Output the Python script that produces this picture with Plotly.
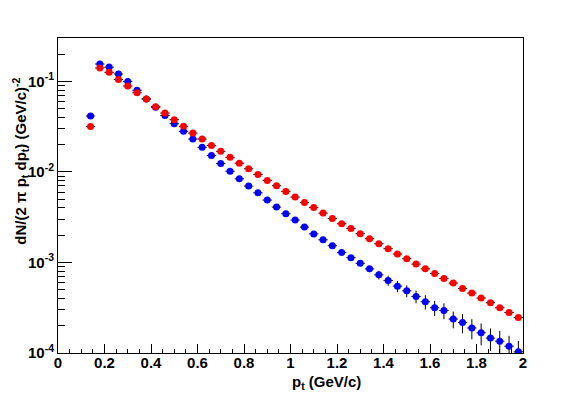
import plotly.graph_objects as go

# bin centres (GeV/c)
pt = [0.14, 0.18, 0.22, 0.26, 0.30, 0.34, 0.38, 0.42, 0.46, 0.50,
      0.54, 0.58, 0.62, 0.66, 0.70, 0.74, 0.78, 0.82, 0.86, 0.90,
      0.94, 0.98, 1.02, 1.06, 1.10, 1.14, 1.18, 1.22, 1.26, 1.30,
      1.34, 1.38, 1.42, 1.46, 1.50, 1.54, 1.58, 1.62, 1.66, 1.70,
      1.74, 1.78, 1.82, 1.86, 1.90, 1.94, 1.98]

red_y = [0.0318, 0.141, 0.126, 0.105, 0.089, 0.075, 0.064, 0.0525, 0.0448, 0.0378,
         0.0319, 0.0269, 0.0231, 0.0196, 0.0169, 0.0145, 0.0125, 0.01084, 0.00938, 0.00805,
         0.00704, 0.0061, 0.00528, 0.0046, 0.00405, 0.00351, 0.00306, 0.00268, 0.00238, 0.00208,
         0.00183, 0.00161, 0.00142, 0.00124, 0.0011, 0.00096, 0.00085, 0.000755, 0.000666, 0.000592,
         0.000516, 0.000459, 0.000404, 0.000359, 0.000316, 0.00028, 0.000247]

blue_y = [0.0415, 0.156, 0.144, 0.121, 0.100, 0.080, 0.064, 0.052, 0.042, 0.0341,
          0.0281, 0.0231, 0.0187, 0.0152, 0.0124, 0.0102, 0.0084, 0.00698, 0.00589, 0.00489,
          0.00409, 0.00345, 0.00294, 0.00246, 0.00207, 0.00178, 0.00153, 0.00129, 0.00113, 0.00098,
          0.00085, 0.00073, 0.000633, 0.000548, 0.000486, 0.000421, 0.000368, 0.000316, 0.000295, 0.000237,
          0.000217, 0.000189, 0.000167, 0.000146, 0.000135, 0.000119, 0.000103]

# relative stat. errors
red_rel = [0.02] * 47
blue_rel = [0.03, 0.03, 0.03, 0.03, 0.03, 0.03, 0.03, 0.03, 0.03, 0.03,
            0.03, 0.03, 0.03, 0.03, 0.03, 0.03, 0.03, 0.03, 0.03, 0.03,
            0.03, 0.03, 0.04, 0.04, 0.04, 0.05, 0.05, 0.05, 0.06, 0.07,
            0.08, 0.11, 0.13, 0.14, 0.15, 0.16, 0.18, 0.19, 0.20, 0.21,
            0.24, 0.25, 0.27, 0.28, 0.30, 0.30, 0.32]

ytick_vals = [1e-4, 1e-3, 1e-2, 1e-1]
ytick_text = ["10<sup>-4</sup>", "10<sup>-3</sup>", "10<sup>-2</sup>", "10<sup>-1</sup>"]
xtick_vals = [0, 0.2, 0.4, 0.6, 0.8, 1, 1.2, 1.4, 1.6, 1.8, 2]
xtick_text = ["0", "0.2", "0.4", "0.6", "0.8", "1", "1.2", "1.4", "1.6", "1.8", "2"]

FONT = "Liberation Sans, Arial, Helvetica, sans-serif"

fig = go.Figure()

for y, rel, col in [(blue_y, blue_rel, "#0000ff"), (red_y, red_rel, "#ff0000")]:
    fig.add_trace(go.Scatter(
        x=pt, y=y, mode="markers",
        marker=dict(color=col, size=7, symbol="circle", line=dict(width=0)),
        error_x=dict(type="constant", value=0.02, color="black", thickness=1, width=0),
        error_y=dict(type="data", array=[v * r for v, r in zip(y, rel)],
                     color="black", thickness=1, width=0),
        showlegend=False,
    ))

# the page body adds an 8px offset, margins compensate for it
fig.update_layout(
    width=581, height=394,
    margin=dict(l=50, r=66, t=30, b=49),
    paper_bgcolor="white", plot_bgcolor="white",
    font=dict(family=FONT, size=15, color="black", weight="bold"),
    annotations=[
        dict(text="p<sub>t</sub> (GeV/c)", xref="paper", yref="paper",
             x=0.577, y=-0.094, xanchor="center", yanchor="middle", showarrow=False,
             font=dict(family=FONT, size=15, weight="bold")),
        dict(text="dN/(2 π p<sub>t</sub> dp<sub>t</sub>) (GeV/c)<sup>-2</sup>",
             xref="paper", yref="paper", x=-0.08, y=0.61, textangle=-90,
             xanchor="center", yanchor="middle", showarrow=False,
             font=dict(family=FONT, size=15, weight="bold")),
    ],
)

fig.update_xaxes(
    range=[0, 2], showgrid=False, zeroline=False, automargin=False,
    showline=True, linecolor="black", linewidth=1, mirror=True,
    ticks="inside", ticklen=9, tickcolor="black", ticklabelstandoff=-4,
    tickvals=xtick_vals, ticktext=xtick_text,
    tickfont=dict(family=FONT, size=15, weight="bold"),
    minor=dict(ticks="inside", ticklen=4, dtick=0.05, tick0=0, tickcolor="black", showgrid=False),
)

fig.update_yaxes(
    type="log", range=[-4, -0.52], showgrid=False, zeroline=False, automargin=False,
    showline=True, linecolor="black", linewidth=1, mirror=True,
    ticks="inside", ticklen=14, tickcolor="black",
    tickvals=ytick_vals, ticktext=ytick_text,
    tickfont=dict(family=FONT, size=15, weight="bold"),
    minor=dict(ticks="inside", ticklen=7, dtick="D1", tickcolor="black", showgrid=False),
)

fig.write_html("out.html")
